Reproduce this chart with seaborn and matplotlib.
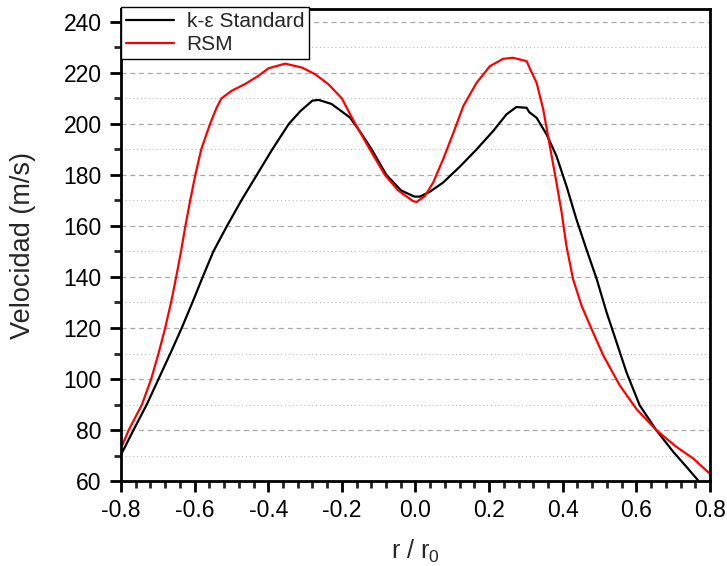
import numpy as np
import pandas as pd
import matplotlib
matplotlib.use("Agg")
import matplotlib.pyplot as plt
from matplotlib.ticker import MultipleLocator
import seaborn as sns

# ---- data ----
ke_x = [-0.800, -0.766, -0.730, -0.698, -0.666, -0.635, -0.606, -0.578, -0.549,
        -0.512, -0.473, -0.431, -0.389, -0.344, -0.312, -0.280, -0.263, -0.228,
        -0.178, -0.146, -0.119, -0.079, -0.039, -0.003, 0.012, 0.039, 0.075,
        0.121, 0.166, 0.211, 0.247, 0.274, 0.302, 0.309, 0.329, 0.356, 0.383,
        0.410, 0.437, 0.464, 0.492, 0.519, 0.546, 0.573, 0.609, 0.654, 0.700,
        0.736, 0.767]
ke_y = [70.3, 80.0, 90.0, 100.0, 110.0, 120.0, 130.0, 140.0, 150.0,
        160.0, 170.0, 180.0, 190.0, 200.0, 205.1, 209.1, 209.4, 207.8,
        202.5, 196.0, 190.0, 180.0, 173.9, 171.5, 171.5, 173.4, 177.0,
        183.3, 190.0, 197.2, 203.7, 206.6, 206.3, 204.6, 202.4, 195.9, 187.4,
        175.7, 162.7, 151.0, 139.3, 126.2, 114.5, 102.7, 89.7, 80.0, 71.5,
        65.6, 60.4]

rsm_x = [-0.800, -0.779, -0.743, -0.718, -0.698, -0.680, -0.664, -0.650, -0.637,
         -0.625, -0.612, -0.598, -0.582, -0.558, -0.540, -0.527, -0.499, -0.463,
         -0.427, -0.399, -0.354, -0.309, -0.273, -0.237, -0.200, -0.173, -0.124,
         -0.083, -0.047, -0.006, 0.003, 0.026, 0.048, 0.075, 0.103, 0.130,
         0.166, 0.202, 0.238, 0.265, 0.302, 0.311, 0.329, 0.347, 0.365, 0.383,
         0.397, 0.410, 0.428, 0.451, 0.478, 0.510, 0.555, 0.600, 0.654, 0.709,
         0.754, 0.799]
rsm_y = [72.9, 80.0, 90.0, 100.0, 110.0, 120.0, 130.0, 140.0, 150.0,
         160.0, 170.0, 180.0, 190.0, 200.0, 206.4, 210.0, 213.0, 215.6,
         218.8, 221.8, 223.6, 222.1, 219.5, 215.6, 210.0, 202.5, 190.0,
         180.0, 173.9, 169.7, 169.4, 171.8, 177.0, 186.1, 196.5, 207.0,
         216.1, 222.6, 225.5, 225.9, 224.6, 221.6, 216.1, 205.7, 191.3, 177.0,
         165.3, 152.2, 139.2, 128.8, 119.7, 109.3, 97.5, 88.3, 80.0, 73.4,
         68.9, 63.0]

series_names = ["k-\u03b5 Standard", "RSM"]
series_colors = ["black", "red"]
x_ticks = [-0.8, -0.6, -0.4, -0.2, 0.0, 0.2, 0.4, 0.6, 0.8]
y_ticks = [60, 80, 100, 120, 140, 160, 180, 200, 220, 240]

df = pd.concat([
    pd.DataFrame({"r": ke_x, "v": ke_y, "Modelo": series_names[0]}),
    pd.DataFrame({"r": rsm_x, "v": rsm_y, "Modelo": series_names[1]}),
], ignore_index=True)

sns.set_style("ticks")
plt.rcParams["font.family"] = ["Liberation Sans", "DejaVu Sans"]
plt.rcParams["mathtext.default"] = "regular"

fig = plt.figure(figsize=(7.27, 5.66), dpi=100)
ax = fig.add_axes([0.1664, 0.150, 0.9766 - 0.1664, 0.984 - 0.150])

sns.lineplot(data=df, x="r", y="v", hue="Modelo", palette=dict(zip(series_names, series_colors)),
             estimator=None, sort=False, linewidth=1.6, ax=ax)
for ln in ax.get_lines():
    ln.set_solid_joinstyle("round")
    ln.set_solid_capstyle("round")

ax.set_xlim(-0.8, 0.8)
ax.set_ylim(60, 245)
ax.set_xticks(x_ticks)
ax.set_xticklabels([f"{t:.1f}" for t in x_ticks])
ax.set_yticks(y_ticks)
ax.xaxis.set_minor_locator(MultipleLocator(0.04))
ax.yaxis.set_minor_locator(MultipleLocator(10))

ax.yaxis.grid(True, which="major", linestyle=(0, (4, 3)), color="#aaaaaa", linewidth=0.9)
ax.yaxis.grid(True, which="minor", linestyle=(0, (1, 2.5)), color="#bbbbbb", linewidth=0.8)
ax.xaxis.grid(False, which="both")
ax.set_axisbelow(True)

for s in ax.spines.values():
    s.set_visible(True)
    s.set_linewidth(2.0)
    s.set_color("black")

ax.tick_params(which="major", direction="out", length=8, width=2.0, labelsize=16.5,
               colors="black", pad=5)
ax.tick_params(which="minor", direction="out", length=5, width=2.0)
ax.tick_params(axis="y", which="major", pad=6)

ax.set_xlabel("r / r$_0$", fontsize=18, labelpad=11)
ax.set_ylabel("Velocidad (m/s)", fontsize=19.5, labelpad=20)

leg = ax.legend(loc="upper left", bbox_to_anchor=(0.0, 1.005), borderaxespad=0,
                fontsize=15, frameon=True, fancybox=False, framealpha=1,
                edgecolor="black", handlelength=2.3, labelspacing=0.2,
                borderpad=0.25, handletextpad=0.6, title=None)
leg.get_frame().set_linewidth(1.0)

fig.savefig("out.png", dpi=100)
